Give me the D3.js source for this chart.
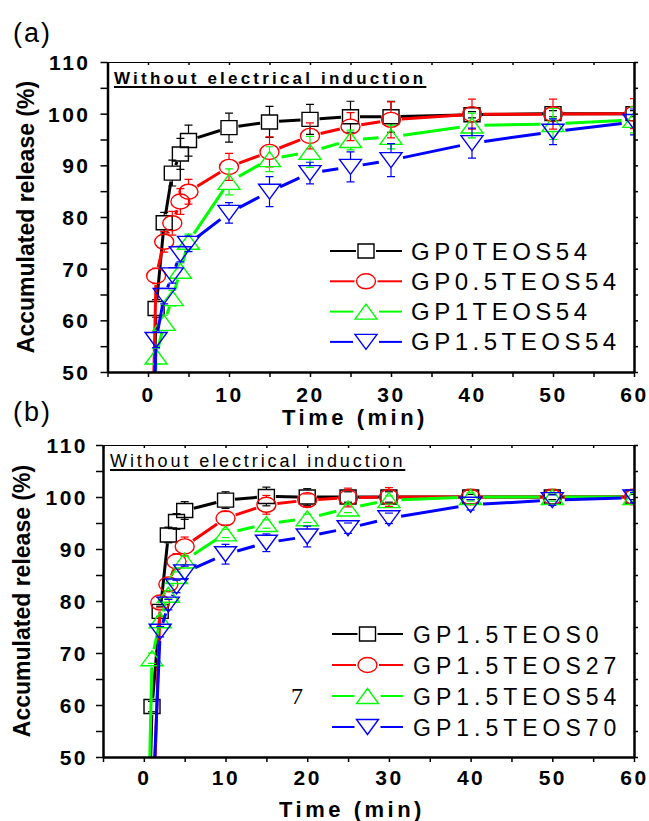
<!DOCTYPE html>
<html>
<head>
<meta charset="utf-8">
<script src="https://cdn.jsdelivr.net/npm/d3@7"></script>
<style>
  body { margin: 0; background: #fff; }
  svg { display: block; }
</style>
</head>
<body>
<div id="chart"></div>
<script>
// sampling times (min); t = 0 starts every curve at 0 %
const timeMin = [0, 1, 2, 3, 4, 5, 10, 15, 20, 25, 30, 40, 50, 60];

const namesA = ['GP0TEOS54', 'GP0.5TEOS54', 'GP1TEOS54', 'GP1.5TEOS54'];
const releaseA = [
  [0, 62.3, 78.9, 88.5, 92.2, 94.8, 97.3, 98.4, 98.9, 99.4, 99.4, 99.8, 100, 100],
  [0, 68.6, 75.2, 78.8, 83.0, 84.9, 89.7, 92.6, 95.7, 97.5, 98.8, 99.9, 99.9, 100],
  [0, 53.0, 59.5, 64.3, 69.6, 75.2, 86.8, 91.2, 92.6, 94.9, 95.5, 97.7, 98.0, 98.8],
  [0, 56.2, 64.7, 68.7, 72.8, 74.8, 80.8, 84.9, 88.5, 89.7, 91.0, 94.3, 96.5, 98.4]
];
const errorA = [
  [0, 1.7, 2.0, 2.5, 3.0, 3.0, 2.8, 3.0, 2.9, 3.0, 3.0, 0.6, 0.6, 0.6],
  [0, 1.5, 2.0, 2.3, 2.5, 2.4, 2.6, 2.9, 2.5, 2.7, 3.5, 2.9, 2.9, 2.9],
  [0, 1.5, 1.5, 1.5, 1.5, 1.5, 2.5, 2.4, 3.0, 1.9, 2.3, 2.4, 3.0, 2.5],
  [0, 1.5, 1.5, 1.5, 1.5, 1.5, 2.0, 2.9, 2.1, 2.9, 3.2, 2.9, 2.5, 2.5]
];

const namesB = ['GP1.5TEOS0', 'GP1.5TEOS27', 'GP1.5TEOS54', 'GP1.5TEOS70'];
const releaseB = [
  [0, 59.7, 78.0, 92.7, 95.3, 97.4, 99.4, 100.1, 100, 100, 100, 100, 100, 100],
  [0, 31.0, 79.7, 83.2, 87.6, 90.5, 95.9, 98.5, 99.4, 99.9, 100, 100, 100, 100],
  [0, 69.0, 76.3, 81.2, 84.8, 87.8, 93.0, 94.8, 95.9, 97.8, 99.4, 100, 100, 100],
  [0, 38.0, 74.1, 79.3, 82.8, 85.5, 89.0, 91.2, 92.4, 94.0, 95.9, 98.5, 99.4, 99.9]
];
const errorB = [
  [0, 1.0, 1.0, 1.5, 1.5, 1.7, 1.6, 1.8, 1.6, 1.0, 1.0, 0.5, 0.5, 0.5],
  [0, 1.0, 1.0, 1.2, 1.5, 1.8, 1.3, 1.8, 1.2, 1.8, 1.8, 1.5, 1.5, 1.5],
  [0, 1.0, 0.8, 0.8, 0.8, 0.8, 0.8, 0.8, 0.8, 0.8, 0.8, 0.8, 0.8, 0.8],
  [0, 1.0, 1.0, 1.0, 1.2, 1.2, 1.9, 1.7, 2.0, 1.0, 1.0, 1.0, 1.0, 1.0]
];

const xTicks = [-5, 0, 5, 10, 15, 20, 25, 30, 35, 40, 45, 50, 55, 60];
const yTicks = [50, 55, 60, 65, 70, 75, 80, 85, 90, 95, 100, 105, 110];

const colors = ['#000000', '#ff0000', '#00ff00', '#0000ff'];
const symbols = ['square', 'circle', 'triangleUp', 'triangleDown'];

const SYMBOL_SIZE = {
  square: [16, 14],
  circle: [19, 15],
  triangleUp: [22, 15],
  triangleDown: [22, 15]
};

const FONT = "'Liberation Sans', Arial, sans-serif";

const svg = d3.select('#chart')
  .append('svg')
  .attr('width', 649)
  .attr('height', 821);

function symbolPath(type) {
  const [w, h] = SYMBOL_SIZE[type];
  const a = w / 2, b = h / 2;
  if (type === 'square') return `M${-a},${-b}H${a}V${b}H${-a}Z`;
  if (type === 'circle') return `M${-a},0A${a},${b} 0 1,0 ${a},0A${a},${b} 0 1,0 ${-a},0Z`;
  if (type === 'triangleUp') return `M0,${-b}L${a},${b}H${-a}Z`;
  return `M0,${b}L${a},${-b}H${-a}Z`;
}

function drawPanel(cfg) {
  const { id, box, names, values, errors } = cfg;

  const x = d3.scaleLinear().domain([-5, 60]).range([box.left, box.right]);
  const y = d3.scaleLinear().domain([50, 110]).range([box.bottom, box.top]);

  const g = svg.append('g').attr('class', 'panel-' + id);

  svg.append('defs').append('clipPath')
    .attr('id', 'clip-' + id)
    .append('rect')
    .attr('x', box.left)
    .attr('y', box.top)
    .attr('width', box.right - box.left)
    .attr('height', box.bottom - box.top);

  const plot = g.append('g').attr('clip-path', `url(#clip-${id})`);

  names.forEach((name, i) => {
    const color = colors[i];
    const [w, h] = SYMBOL_SIZE[symbols[i]];
    const ga = w / 2 + 1.5, gb = h / 2 + 1.5;
    const pts = timeMin.map((t, j) => ({
      px: x(t), py: y(values[i][j]), v: values[i][j], e: errors[i][j], t
    }));

    // line segments stop at the symbol outline
    const segs = [];
    for (let j = 1; j < pts.length; j++) {
      const p0 = pts[j - 1], p1 = pts[j];
      const dx = p1.px - p0.px, dy = p1.py - p0.py;
      const len = Math.hypot(dx, dy);
      const ux = dx / len, uy = dy / len;
      const r = ga * gb / Math.hypot(gb * ux, ga * uy);
      const r0 = p0.t === 0 ? 0 : r;
      if (len > r0 + r) {
        segs.push([p0.px + ux * r0, p0.py + uy * r0, p1.px - ux * r, p1.py - uy * r]);
      }
    }
    plot.append('g')
      .selectAll('line')
      .data(segs)
      .join('line')
      .attr('x1', d => d[0]).attr('y1', d => d[1])
      .attr('x2', d => d[2]).attr('y2', d => d[3])
      .attr('stroke', color)
      .attr('stroke-width', 3);

    // error bars
    const eg = plot.append('g').attr('stroke', color).attr('stroke-width', 1.2).attr('fill', 'none');
    pts.filter(p => p.e > 0).forEach(p => {
      const yt = y(p.v + p.e), yb = y(p.v - p.e);
      const hb = h / 2;
      if (yt < p.py - hb) {
        eg.append('line').attr('x1', p.px).attr('x2', p.px).attr('y1', yt).attr('y2', p.py - hb);
      }
      if (yb > p.py + hb) {
        eg.append('line').attr('x1', p.px).attr('x2', p.px).attr('y1', p.py + hb).attr('y2', yb);
      }
      eg.append('line').attr('x1', p.px - 4).attr('x2', p.px + 4).attr('y1', yt).attr('y2', yt);
      eg.append('line').attr('x1', p.px - 4).attr('x2', p.px + 4).attr('y1', yb).attr('y2', yb);
    });

    // symbols
    plot.append('g')
      .selectAll('path')
      .data(pts.filter(p => p.t > 0))
      .join('path')
      .attr('d', symbolPath(symbols[i]))
      .attr('transform', d => `translate(${d.px},${d.py})`)
      .attr('fill', 'none')
      .attr('stroke', color)
      .attr('stroke-width', 1.4);
  });

  // axes
  const xAxis = d3.axisBottom(x)
    .tickValues(xTicks)
    .tickSize(5)
    .tickSizeOuter(0)
    .tickPadding(cfg.xPad)
    .tickFormat(d => d % 10 === 0 ? d : '');
  const yAxis = d3.axisLeft(y)
    .tickValues(yTicks)
    .tickSize(7)
    .tickSizeOuter(0)
    .tickPadding(cfg.yPad)
    .tickFormat(d => d % 10 === 0 ? d : '');
  const topAxis = d3.axisTop(x).tickValues(xTicks).tickSize(-3).tickSizeOuter(0).tickFormat('');
  const rightAxis = d3.axisRight(y).tickValues(yTicks).tickSize(4).tickSizeOuter(0).tickFormat('');

  const gx = g.append('g').attr('transform', `translate(0,${box.bottom})`).call(xAxis);
  const gy = g.append('g').attr('transform', `translate(${box.left},0)`).call(yAxis);
  const gt = g.append('g').attr('transform', `translate(0,${box.top})`).call(topAxis);
  const gr = g.append('g').attr('transform', `translate(${box.right},0)`).call(rightAxis);

  [gx, gy, gt, gr].forEach(a => {
    a.selectAll('line').attr('stroke', '#000').attr('stroke-width', 1.5);
    a.select('.domain').attr('stroke', '#000').attr('stroke-width', 2.5);
  });
  gt.select('.domain').attr('stroke-width', 1.2);

  [gx, gy].forEach(a => {
    a.selectAll('text')
      .attr('fill', '#000')
      .style('font-family', FONT)
      .style('font-weight', 'bold')
      .style('font-size', '21px')
      .style('letter-spacing', '2.5px');
  });
  gx.selectAll('text').attr('dy', '0.68em');
  gy.selectAll('text').attr('dy', '0.36em');

  // axis titles
  g.append('text')
    .attr('x', cfg.xTitleX)
    .attr('y', box.bottom + cfg.xTitleDy)
    .attr('text-anchor', 'middle')
    .style('font-family', FONT)
    .style('font-weight', 'bold')
    .style('font-size', '22px')
    .style('letter-spacing', '3.5px')
    .text('Time (min)');

  g.append('text')
    .attr('transform', `translate(${cfg.yTitleX},${(box.top + box.bottom) / 2}) rotate(-90)`)
    .attr('text-anchor', 'middle')
    .style('font-family', FONT)
    .style('font-weight', 'bold')
    .style('font-size', '23px')
    .text('Accumulated release (%)');

  // panel letter
  g.append('text')
    .attr('x', 13)
    .attr('y', cfg.letterY)
    .style('font-family', FONT)
    .style('font-size', '27px')
    .style('letter-spacing', '2px')
    .text(cfg.letter);

  // note
  const note = g.append('text')
    .attr('x', cfg.note.x)
    .attr('y', cfg.note.y)
    .style('font-family', FONT)
    .style('font-weight', cfg.note.weight)
    .style('font-size', cfg.note.size + 'px')
    .style('letter-spacing', cfg.note.spacing + 'px')
    .text('Without electrical induction');
  const nb = note.node().getBBox();
  g.append('line')
    .attr('x1', cfg.note.x)
    .attr('x2', nb.x + nb.width)
    .attr('y1', cfg.note.y + 3)
    .attr('y2', cfg.note.y + 3)
    .attr('stroke', '#000')
    .attr('stroke-width', 2);

  // legend
  const lg = g.append('g');
  names.forEach((name, i) => {
    const ly = cfg.legend.y + i * cfg.legend.step;
    const mx = (cfg.legend.x0 + cfg.legend.x1) / 2;
    const half = SYMBOL_SIZE[symbols[i]][0] / 2 + 2;
    lg.append('line')
      .attr('x1', cfg.legend.x0).attr('x2', mx - half)
      .attr('y1', ly).attr('y2', ly)
      .attr('stroke', colors[i]).attr('stroke-width', 2);
    lg.append('line')
      .attr('x1', mx + half).attr('x2', cfg.legend.x1)
      .attr('y1', ly).attr('y2', ly)
      .attr('stroke', colors[i]).attr('stroke-width', 2);
    lg.append('path')
      .attr('d', symbolPath(symbols[i]))
      .attr('transform', `translate(${mx},${ly})`)
      .attr('fill', 'none')
      .attr('stroke', colors[i])
      .attr('stroke-width', 1.4);
    lg.append('text')
      .attr('x', cfg.legend.tx)
      .attr('y', ly + 8.5)
      .style('font-family', FONT)
      .style('font-size', cfg.legend.size + 'px')
      .style('letter-spacing', cfg.legend.spacing + 'px')
      .text(name);
  });
}

drawPanel({
  id: 'a',
  letter: '(a)',
  letterY: 42,
  box: { left: 107.5, right: 634, top: 62, bottom: 372 },
  names: namesA, values: releaseA, errors: errorA,
  xPad: 11, yPad: 10,
  xTitleX: 355, xTitleDy: 53, yTitleX: 34,
  note: { x: 114, y: 84, weight: 'bold', size: 17, spacing: 3.2 },
  legend: { x0: 330, x1: 402, tx: 411, y: 251, step: 30.3, size: 24, spacing: 4.5 }
});

drawPanel({
  id: 'b',
  letter: '(b)',
  letterY: 421,
  box: { left: 103, right: 634, top: 445, bottom: 757 },
  names: namesB, values: releaseB, errors: errorB,
  xPad: 9, yPad: 8,
  xTitleX: 352, xTitleDy: 60, yTitleX: 30,
  note: { x: 110, y: 467, weight: 'normal', size: 18, spacing: 2.9 },
  legend: { x0: 332, x1: 403, tx: 413, y: 634, step: 31, size: 23, spacing: 5 }
});

// stray glyph present in the original figure
svg.append('text')
  .attr('x', 291)
  .attr('y', 704)
  .style('font-family', "'Liberation Serif', 'Times New Roman', serif")
  .style('font-size', '24px')
  .text('7');
</script>
</body>
</html>
